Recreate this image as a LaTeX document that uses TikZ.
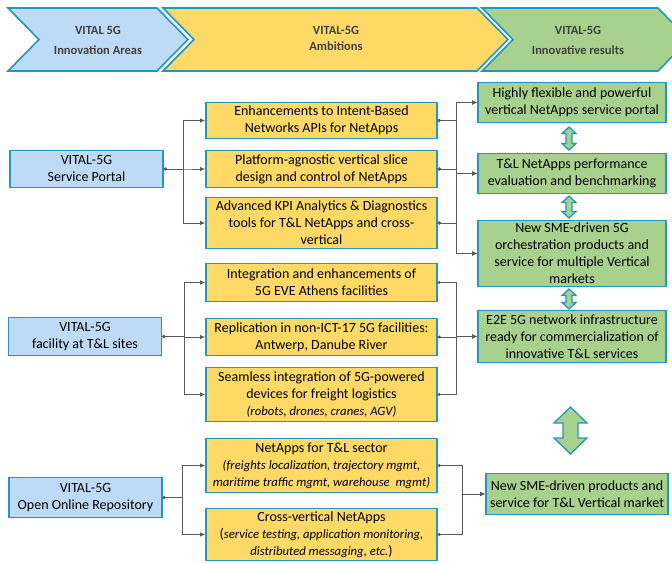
\documentclass[tikz,border=0pt]{standalone}
\usepackage{fontspec}
\setmainfont{Carlito}
\usetikzlibrary{arrows.meta}
\definecolor{edgeblue}{RGB}{31,150,196}
\definecolor{areablue}{RGB}{189,219,247}
\definecolor{ambyellow}{RGB}{255,217,102}
\definecolor{resgreen}{RGB}{169,209,142}
\definecolor{linkgray}{RGB}{89,89,89}
\definecolor{headgray}{RGB}{64,64,64}
\tikzstyle{box}=[draw=edgeblue, line width=1.6pt, align=center, inner sep=1pt, font=\fontsize{14}{17}\selectfont]
\tikzstyle{area}=[box, fill=areablue, minimum width=153pt]
\tikzstyle{ambition}=[box, fill=ambyellow, minimum width=231pt]
\tikzstyle{result}=[box, fill=resgreen, minimum width=188pt]
\tikzstyle{link}=[draw=linkgray, line width=0.9pt, {Circle[length=3pt]}-{Latex[length=5pt,width=4.5pt]}]
\tikzstyle{chevron}=[draw=edgeblue, line width=1.6pt]
\tikzstyle{headtext}=[text=headgray, font=\fontsize{12.5}{20}\selectfont\bfseries, align=center]
\newcommand{\detail}[1]{{\fontsize{12.7}{17}\selectfont\itshape #1}}

\begin{document}
\begin{tikzpicture}[x=1pt,y=-1pt]
\useasboundingbox (0,0) rectangle (672,563);
\def \tipd {31}
\foreach \l/\r/\c in {8/157/areablue, 163/477/ambyellow, 482/658/resgreen}
  \draw[chevron, fill=\c] (\l,8) -- (\r,8) -- (\r+\tipd,39.5) -- (\r,71) -- (\l,71) -- (\l+\tipd,39.5) -- cycle;
\node[headtext] (areas) at (98,40) {VITAL 5G\\Innovation Areas};
\node[headtext, font=\fontsize{12.5}{16}\selectfont\bfseries] (ambitions) at (336,38.5) {VITAL-5G\\Ambitions};
\node[headtext] (results) at (578,40) {VITAL-5G\\Innovative results};

\node[area, minimum height=37pt] (portal) at (86.5,169) {VITAL-5G\\Service Portal};
\node[area, minimum height=38pt] (facility) at (85,336.5) {VITAL-5G\\facility at T\&L sites};
\node[area, minimum height=40pt] (repo) at (85.5,497.5) {VITAL-5G\\Open Online Repository};

\node[ambition, minimum height=36pt] (intent) at (321.5,120.5) {Enhancements to Intent-Based\\Networks APIs for NetApps};
\node[ambition, minimum height=37pt] (slice) at (321.5,169) {Platform-agnostic vertical slice\\design and control of NetApps};
\node[ambition, minimum height=51pt] (kpi) at (321.5,223) {Advanced KPI Analytics \& Diagnostics\\tools for T\&L NetApps and cross-\\vertical};
\node[ambition, minimum height=38pt] (athens) at (321.5,282.5) {Integration and enhancements of\\5G EVE Athens facilities};
\node[ambition, minimum height=37pt] (replica) at (321.5,337) {Replication in non-ICT-17 5G facilities:\\Antwerp, Danube River};
\node[ambition, minimum height=54pt] (devices) at (321.5,394.5) {Seamless integration of 5G-powered\\devices for freight logistics\\\detail{(robots, drones, cranes, AGV)}};
\node[ambition, minimum height=54pt] (tlapps) at (321.5,465.5) {NetApps for T\&L sector\\\detail{(freights localization, trajectory mgmt,}\\\detail{maritime traffic mgmt, warehouse\ \ mgmt)}};
\node[ambition, minimum height=52pt] (crossapps) at (321.5,534.5) {Cross-vertical NetApps\\(\detail{service testing, application monitoring,}\\\detail{distributed messaging, etc.})};

\node[result, minimum height=40pt] (portalres) at (572,102.5) {Highly flexible and powerful\\vertical NetApps service portal};
\node[result, minimum height=40pt] (benchres) at (572,173.5) {T\&L NetApps performance\\evaluation and benchmarking};
\node[result, minimum height=66pt] (orchres) at (572,253.5) {New SME-driven 5G\\orchestration products and\\service for multiple Vertical\\markets};
\node[result, minimum height=52pt] (infrares) at (572,336.5) {E2E 5G network infrastructure\\ready for commercialization of\\innovative T\&L services};
\node[result, minimum height=41pt, minimum width=182pt] (marketres) at (577,494) {New SME-driven products and\\service for T\&L Vertical market};

\foreach \a in {intent,slice,kpi} {
  \draw[link] (portal.east) -- ++(20,0) |- (\a.west);
  \foreach \r in {portalres,benchres,orchres}
    \draw[link] (\a.east) -- ++(19,0) |- (\r.west);
}
\foreach \a in {athens,replica,devices} {
  \draw[link] (facility.east) -- ++(22,0) |- (\a.west);
  \draw[link] (\a.east) -- ++(19,0) |- (infrares.west);
}
\foreach \a in {tlapps,crossapps} {
  \draw[link] (repo.east) -- ++(20,0) |- (\a.west);
  \draw[link] (\a.east) -- ++(25,0) |- (marketres.west);
}

\foreach \x/\t/\b/\w/\s/\h in {569/127/150/7/3/6.5, 569/196/218/7/3/6.5, 569/289/309/7/3/6.5, 570.5/407/454/16.5/7.5/16}
  \draw[chevron, line width=1.3pt, fill=resgreen] (\x-\s,\t+\h) -- (\x-\w,\t+\h) -- (\x,\t) -- (\x+\w,\t+\h) -- (\x+\s,\t+\h)
    -- (\x+\s,\b-\h) -- (\x+\w,\b-\h) -- (\x,\b) -- (\x-\w,\b-\h) -- (\x-\s,\b-\h) -- cycle;
\end{tikzpicture}
\end{document}
